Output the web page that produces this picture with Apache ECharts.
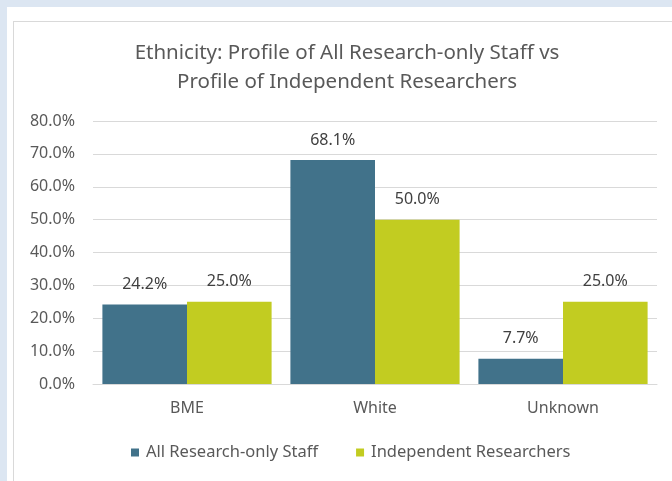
<!DOCTYPE html>
<html>
<head>
<meta charset="utf-8">
<script src="https://cdn.jsdelivr.net/npm/echarts@6/dist/echarts.min.js"></script>
<style>
html, body { margin: 0; padding: 0; width: 672px; height: 481px; overflow: hidden; background: #dce6f2; }
#panel { position: absolute; left: 7px; top: 7px; right: 0; bottom: 0; background: #fff; }
#chart { position: absolute; left: 13px; top: 21px; width: 700px; height: 480px; border: 1px solid #d9d9d9; }
</style>
</head>
<body>
<div id="panel"></div>
<div id="chart"></div>
<script>
var categories = ['BME', 'White', 'Unknown'];
var allStaff = [24.2, 68.1, 7.7];
var independent = [25.0, 50.0, 25.0];
var seriesNames = ['All Research-only Staff', 'Independent Researchers'];

var font = 'Noto Sans';
var pct = function (p) { return p.value.toFixed(1) + '%'; };

var myChart = echarts.init(document.getElementById('chart'));
myChart.setOption({
    color: ['#41728a', '#c2cc21'],
    textStyle: { fontFamily: font },
    title: {
        text: 'Ethnicity: Profile of All Research-only Staff vs\nProfile of Independent Researchers',
        left: 328,
        textAlign: 'center',
        top: 12,
        textStyle: { fontFamily: font, fontSize: 20.5, fontWeight: 'normal', color: '#595959', lineHeight: 29 }
    },
    legend: {
        data: seriesNames,
        left: 112,
        top: 417,
        itemWidth: 8,
        itemHeight: 8,
        itemGap: 38,
        icon: 'rect',
        textStyle: { fontFamily: font, fontSize: 16.5, color: '#595959', padding: [0, 0, 0, 2] }
    },
    grid: { left: 79, top: 99, width: 564, height: 263 },
    xAxis: {
        type: 'category',
        data: categories,
        axisLine: { lineStyle: { color: '#d9d9d9' } },
        axisTick: { show: false },
        axisLabel: { margin: 16, fontSize: 16, color: '#595959', fontFamily: font }
    },
    yAxis: {
        type: 'value',
        min: 0,
        max: 80,
        interval: 10,
        axisLine: { show: false },
        axisTick: { show: false },
        splitLine: { lineStyle: { color: '#d9d9d9' } },
        axisLabel: { margin: 18, fontSize: 16, color: '#595959', fontFamily: font,
            formatter: function (v) { return v.toFixed(1) + '%'; } }
    },
    series: [
        {
            name: seriesNames[0],
            type: 'bar',
            data: allStaff,
            barGap: '0%',
            barCategoryGap: '10%',
            label: { show: true, position: 'top', distance: 12, fontSize: 16, color: '#404040', fontFamily: font, formatter: pct }
        },
        {
            name: seriesNames[1],
            type: 'bar',
            data: independent,
            barGap: '0%',
            barCategoryGap: '10%',
            label: { show: true, position: 'top', distance: 12, fontSize: 16, color: '#404040', fontFamily: font, formatter: pct }
        }
    ]
});
</script>
</body>
</html>
